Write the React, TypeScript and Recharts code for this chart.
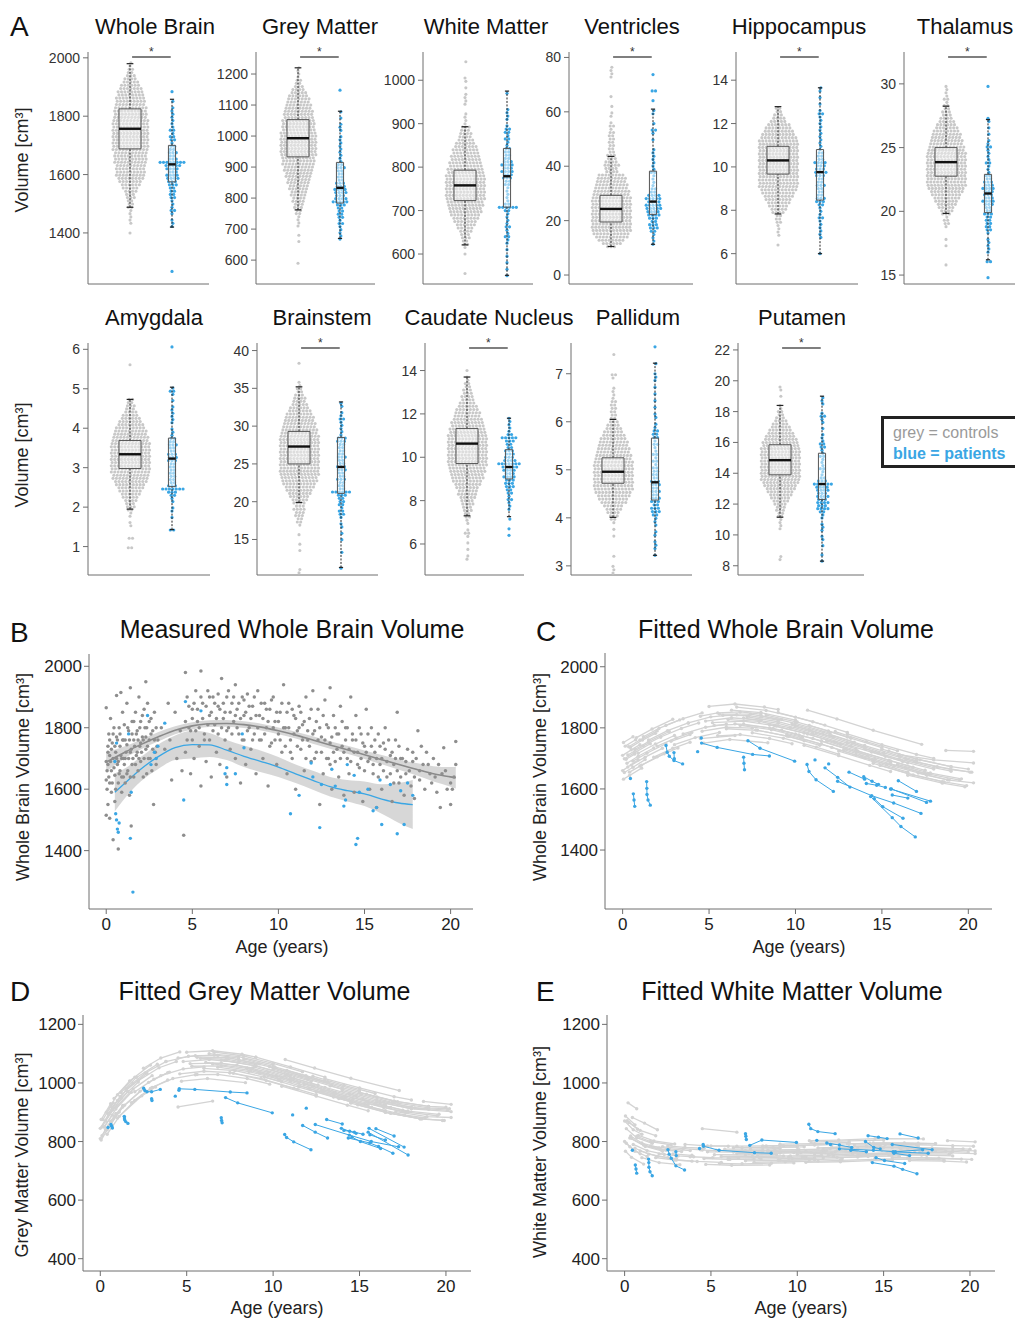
import React from "react";
import {
  Area,
  ComposedChart,
  Line,
  ReferenceArea,
  ReferenceLine,
  Scatter,
  ScatterChart,
  XAxis,
  YAxis,
} from "recharts";

const FONT = '"Liberation Sans", Arial, Helvetica, sans-serif';
const AXIS = "#6e6e6e";
const CTRL_DOT = "#c8c8c8";
const BLUE = "#3aa6e4";
const B_GREY = "#8e8e8e";
const TRAJ_GREY = "#d3d3d3";
const PX_PER_GROUP = 42;

// ---- panel A: dots per swarm row (bottom row first), [ctrl start, patient start, row step]
const WB_BINS = [1400, 1268, 11];
const WB_CTRL = [1,0,0,1,1,1,1,1,2,2,2,3,3,4,5,6,7,8,9,9,9,9,10,10,10,10,11,11,11,11,11,11,11,11,11,11,10,10,10,10,9,9,9,8,8,7,6,5,4,3,2,2,1,1];
const WB_PAT = [1,0,0,0,0,0,0,0,0,0,0,0,0,0,1,1,1,0,1,2,1,1,1,2,2,2,2,3,3,4,4,3,4,5,8,3,2,3,2,2,1,2,2,1,2,1,1,1,1,1,1,1,0,1,0,0,1];
const WB_BOX = [[1488, 1688, 1757, 1825, 1980], [1420, 1575, 1635, 1700, 1858]];

const GM_BINS = [590, 668, 10];
const GM_CTRL = [1,0,0,0,0,0,0,1,0,1,0,0,1,1,1,1,2,2,3,3,4,4,5,5,6,6,7,7,8,8,9,9,10,10,10,11,11,11,11,11,11,11,11,10,10,10,10,9,9,9,8,8,7,7,6,5,4,3,2,2,1,1,1,1];
const GM_PAT = [1,1,1,1,1,2,1,2,2,2,2,3,5,4,3,4,4,3,3,2,2,2,2,3,2,1,1,1,1,1,1,1,1,1,0,1,1,1,0,1,0,1,0,0,0,0,0,0,1];
const GM_BOX = [[762, 933, 993, 1053, 1220], [670, 784, 833, 915, 1080]];

const WM_BINS = [555, 550, 7.5];
const WM_CTRL = [1,0,0,0,0,0,1,0,1,2,2,3,3,4,5,6,7,8,9,10,10,11,11,12,12,12,12,12,12,12,12,11,11,10,10,9,9,8,8,7,6,5,4,4,3,3,1,1,1,1,0,0,1,1,1,1,0,1,0,1,1,0,0,0,0,1];
const WM_PAT = [1,0,1,0,1,0,1,0,1,0,1,1,2,1,1,2,1,1,1,1,2,6,2,1,1,1,1,1,2,2,3,3,4,3,4,3,2,2,2,2,1,1,2,1,2,2,1,0,1,1,1,1,0,0,0,0,1];
const WM_BOX = [[621, 723, 758, 793, 893], [551, 708, 779, 843, 975]];

const VEN_BINS = [10.4, 11.3, 1.2];
const VEN_CTRL = [3,6,8,10,11,12,12,12,12,12,12,12,12,12,12,12,11,11,10,10,9,9,8,4,4,5,4,3,3,2,2,2,2,2,2,2,1,2,1,0,1,1,0,1,0,0,1,0,0,0,0,0,1,1,1,1];
const VEN_PAT = [1,1,1,1,2,3,3,2,3,4,4,5,5,4,5,4,2,2,1,1,1,1,2,1,1,1,1,1,1,1,0,0,1,0,1,2,0,1,0,0,1,1,0,0,1,0,0,2,0,0,0,0,1];
const VEN_BOX = [[10.5, 19.5, 24.3, 29.3, 43.6], [11.3, 22.3, 27, 38.2, 61]];

const HIP_BINS = [6.4, 6.0, 0.15];
const HIP_CTRL = [1,0,0,1,1,1,1,2,2,2,4,5,6,7,8,9,10,11,12,12,12,12,12,12,12,12,12,12,12,12,12,12,12,11,10,9,8,7,5,4,3,2,2];
const HIP_PAT = [1,0,0,0,0,1,1,1,1,1,1,2,1,1,1,2,3,3,2,2,2,3,2,2,3,4,3,3,4,2,2,2,1,1,1,1,1,1,1,1,1,1,1,2,1,0,1,0,1,0,1,1];
const HIP_BOX = [[7.83, 9.67, 10.3, 10.95, 12.78], [6.0, 8.47, 9.76, 10.8, 13.65]];

const THA_BINS = [15.8, 14.8, 0.25];
const THA_CTRL = [1,0,0,0,0,0,1,0,1,0,0,0,1,2,2,1,3,4,5,6,7,8,9,10,11,12,12,12,12,12,12,12,12,12,12,12,11,11,10,10,9,9,8,7,6,5,4,3,3,2,2,1,2,1,1,1,1];
const THA_PAT = [1,0,0,0,0,2,0,0,1,1,1,1,1,0,1,2,2,2,2,2,3,2,2,3,4,3,3,3,4,3,3,2,2,1,1,1,2,1,1,1,1,2,1,1,0,1,0,1,0,1,1,0,0,0,0,0,0,0,0,0,1];
const THA_BOX = [[19.84, 22.76, 23.86, 25.0, 28.25], [16.2, 19.9, 21.4, 22.9, 27.2]];

const AMY_BINS = [0.97, 1.42, 0.08];
const AMY_CTRL = [2,0,0,2,0,0,0,1,1,0,1,1,2,3,3,4,5,6,7,8,9,10,11,11,12,12,12,12,12,12,12,12,12,12,11,11,10,10,9,8,7,6,5,4,3,3,2,2,0,0,0,0,0,0,0,0,0,0,1];
const AMY_PAT = [2,0,0,0,1,0,1,1,0,1,1,2,3,7,3,2,2,2,2,2,2,2,3,3,3,2,2,3,2,2,1,1,1,0,1,1,1,1,1,1,0,1,0,1,2,1,0,0,0,0,0,0,0,0,0,0,0,0,1];
const AMY_BOX = [[1.95, 2.98, 3.34, 3.69, 4.73], [1.43, 2.52, 3.23, 3.75, 5.04]];

const BST_BINS = [10.6, 11.2, 0.42];
const BST_CTRL = [1,1,0,0,0,0,0,1,0,1,0,0,1,0,0,1,2,2,3,3,4,3,4,5,6,7,8,9,10,11,11,12,12,12,12,12,12,12,12,12,12,12,12,12,11,11,10,10,9,9,8,7,6,5,4,4,3,2,2,1,1,0,0,0,0,0,1];
const BST_PAT = [1,0,0,0,0,1,0,0,0,1,0,1,0,1,1,0,1,2,2,1,2,2,2,3,6,2,2,2,3,2,2,3,3,2,2,3,2,2,2,2,3,3,1,1,1,1,1,2,1,1,0,1,1];
const BST_BOX = [[19.9, 25.0, 27.3, 29.3, 35.2], [11.3, 21.1, 24.6, 28.5, 33.2]];

const CAU_BINS = [5.3, 6.4, 0.15];
const CAU_CTRL = [1,1,0,1,0,1,0,1,2,1,0,1,1,2,2,3,3,4,4,5,6,6,7,8,9,10,10,11,11,12,12,12,12,12,12,12,12,12,12,11,11,10,10,9,8,8,7,6,5,4,4,3,3,2,2,1,1,0,1];
const CAU_PAT = [1,0,1,0,0,1,0,0,1,1,1,2,1,2,2,3,3,3,4,3,4,5,7,4,3,3,3,2,2,3,5,2,1,1,1,1,1];
const CAU_BOX = [[7.3, 9.71, 10.63, 11.33, 13.7], [7.26, 9.0, 9.55, 10.35, 11.8]];

const PAL_BINS = [2.85, 3.22, 0.07];
const PAL_CTRL = [1,1,1,0,0,1,0,0,0,0,0,1,0,1,0,1,2,3,4,5,6,8,9,10,11,12,12,12,12,12,12,12,12,12,11,11,10,10,9,9,8,7,6,5,4,3,2,2,2,2,2,2,1,1,1,1,0,0,1,2,0,0,0,0,0,1];
const PAL_PAT = [1,0,1,1,1,0,1,1,0,1,1,1,2,3,3,2,3,3,2,3,2,3,3,2,2,2,2,1,2,1,2,1,1,2,1,2,2,2,1,1,0,1,1,0,1,0,1,0,1,0,1,0,1,1,1,0,0,1,0,0,0,0,1];
const PAL_BOX = [[4.01, 4.72, 4.96, 5.25, 6.05], [3.22, 4.37, 4.74, 5.66, 7.22]];

const PUT_BINS = [8.4, 8.3, 0.2];
const PUT_CTRL = [1,1,0,0,0,0,0,0,0,0,1,1,1,1,2,2,3,3,4,5,6,7,8,9,10,11,12,12,12,12,12,12,12,12,12,12,12,11,11,10,9,8,7,6,5,4,3,2,2,1,1,0,0,1,0,1,1];
const PUT_PAT = [1,0,1,0,0,1,0,1,1,0,1,1,1,0,1,1,2,4,3,4,3,4,3,4,4,6,3,2,1,1,2,1,1,1,2,1,1,2,2,1,1,1,0,1,0,1,1,2,1,0,0,1,1,1];
const PUT_BOX = [[11.15, 13.9, 14.85, 15.85, 18.4], [8.3, 12.3, 13.3, 15.3, 19.0]];

const ROW1 = [
  { name: "Whole Brain", ctrl: WB_CTRL, pat: WB_PAT, bins: WB_BINS, box: WB_BOX, domain: [1225, 2020], ticks: [1400, 1600, 1800, 2000], sig: true },
  { name: "Grey Matter", ctrl: GM_CTRL, pat: GM_PAT, bins: GM_BINS, box: GM_BOX, domain: [523, 1271], ticks: [600, 700, 800, 900, 1000, 1100, 1200], sig: true },
  { name: "White Matter", ctrl: WM_CTRL, pat: WM_PAT, bins: WM_BINS, box: WM_BOX, domain: [531, 1065], ticks: [600, 700, 800, 900, 1000], sig: false },
  { name: "Ventricles", ctrl: VEN_CTRL, pat: VEN_PAT, bins: VEN_BINS, box: VEN_BOX, domain: [-3.3, 82], ticks: [0, 20, 40, 60, 80], sig: true },
  { name: "Hippocampus", ctrl: HIP_CTRL, pat: HIP_PAT, bins: HIP_BINS, box: HIP_BOX, domain: [4.6, 15.3], ticks: [6, 8, 10, 12, 14], sig: true },
  { name: "Thalamus", ctrl: THA_CTRL, pat: THA_PAT, bins: THA_BINS, box: THA_BOX, domain: [14.3, 32.5], ticks: [15, 20, 25, 30], sig: true },
];
const ROW2 = [
  { name: "Amygdala", ctrl: AMY_CTRL, pat: AMY_PAT, bins: AMY_BINS, box: AMY_BOX, domain: [0.28, 6.16], ticks: [1, 2, 3, 4, 5, 6], sig: false },
  { name: "Brainstem", ctrl: BST_CTRL, pat: BST_PAT, bins: BST_BINS, box: BST_BOX, domain: [10.3, 41], ticks: [15, 20, 25, 30, 35, 40], sig: true },
  { name: "Caudate Nucleus", ctrl: CAU_CTRL, pat: CAU_PAT, bins: CAU_BINS, box: CAU_BOX, domain: [4.57, 15.27], ticks: [6, 8, 10, 12, 14], sig: true },
  { name: "Pallidum", ctrl: PAL_CTRL, pat: PAL_PAT, bins: PAL_BINS, box: PAL_BOX, domain: [2.81, 7.64], ticks: [3, 4, 5, 6, 7], sig: false },
  { name: "Putamen", ctrl: PUT_CTRL, pat: PUT_PAT, bins: PUT_BINS, box: PUT_BOX, domain: [7.4, 22.45], ticks: [8, 10, 12, 14, 16, 18, 20, 22], sig: true },
];
const ROW1_LAYOUT = [
  { axisX: 88, width: 121, titleX: 155 },
  { axisX: 256, width: 119, titleX: 320 },
  { axisX: 423, width: 110, titleX: 486 },
  { axisX: 569, width: 124, titleX: 632 },
  { axisX: 736, width: 122, titleX: 799 },
  { axisX: 904, width: 112, titleX: 965 },
];
const ROW2_LAYOUT = [
  { axisX: 88, width: 122, titleX: 154 },
  { axisX: 257, width: 121, titleX: 322 },
  { axisX: 425, width: 99, titleX: 489 },
  { axisX: 571, width: 121, titleX: 638 },
  { axisX: 738, width: 126, titleX: 802 },
];

// ---- panel B: measured whole brain volume [age, cm3]
const B_CTRL_POINTS = [
  [0.0,1865],[0.0,1690],[0.0,1630],[0.0,1515],[0.05,1600],[0.1,1740],[0.1,1680],[0.1,1550],[0.15,1780],[0.2,1710],[0.2,1620],[0.2,1505],[0.25,1830],[0.3,1660],[0.3,1590],[0.35,1750],[0.4,1700],[0.4,1435],[0.45,1800],[0.5,1645],[0.5,1560],[0.55,1720],[0.6,1905],[0.6,1770],[0.65,1680],[0.7,1620],[0.7,1405],[0.75,1800],[0.8,1740],[0.8,1660],[0.85,1915],[0.9,1590],[0.9,1700],[0.95,1850],[1.0,1640],[1.0,1760],
  [1.05,1810],[1.1,1700],[1.1,1620],[1.2,1880],[1.2,1745],[1.25,1660],[1.3,1790],[1.35,1580],[1.4,1930],[1.4,1720],[1.45,1480],[1.5,1820],[1.5,1680],[1.6,1760],[1.6,1640],[1.7,1850],[1.75,1710],[1.8,1790],[1.85,1660],[1.9,1900],[1.95,1740],[2.0,1820],[2.0,1690],[2.1,1770],[2.15,1640],[2.2,1860],[2.3,1950],[2.3,1730],[2.35,1800],[2.4,1880],[2.45,1700],[2.5,1760],[2.6,1830],[2.65,1660],[2.7,1790],[2.75,1550],[2.8,1850],[2.85,1720],[2.9,1680],[3.0,1760],
  [3.2,1800],[3.4,1730],[3.6,1880],[3.7,1760],[3.8,1630],[4.0,1850],[4.1,1700],[4.3,1790],[4.4,1660],[4.5,1450],[4.6,1980],[4.6,1720],
  [4.7,1900],[4.8,1800],[4.9,1650],[5.0,1860],[5.0,1760],[5.1,1700],[5.2,1920],[5.3,1820],[5.4,1740],[5.5,1985],[5.5,1610],[5.6,1880],[5.7,1780],[5.8,1690],[5.9,1920],[6.0,1840],[6.0,1760],[6.1,1640],[6.2,1900],[6.3,1810],[6.4,1720],[6.5,1870],[6.5,1780],[6.6,1680],[6.7,1960],[6.8,1830],[6.9,1760],[7.0,1900],[7.0,1640],[7.1,1800],[7.2,1730],[7.3,1880],[7.4,1820],[7.5,1940],[7.5,1700],[7.6,1860],[7.7,1780],[7.8,1620],[7.9,1900],[8.0,1840],[8.0,1760],
  [8.1,1680],[8.2,1910],[8.3,1800],[8.4,1730],[8.5,1870],[8.6,1780],[8.7,1650],[8.8,1920],[8.9,1840],[9.0,1760],[9.1,1700],[9.2,1880],[9.3,1800],[9.4,1610],[9.5,1860],[9.6,1750],[9.7,1900],[9.8,1820],[9.9,1680],[10.0,1780],[10.1,1850],[10.2,1720],[10.3,1940],[10.4,1800],[10.5,1650],[10.6,1880],[10.7,1760],[10.8,1700],[10.9,1840],[11.0,1600],[11.1,1790],[11.2,1870],[11.3,1730],[11.4,1810],[11.5,1660],[11.6,1900],[11.7,1760],[11.8,1830],[11.9,1690],[12.0,1920],[12.1,1790],[12.2,1720],[12.3,1860],[12.4,1550],[12.5,1770],[12.6,1650],[12.7,1890],[12.8,1810],[12.9,1700],[13.0,1930],[13.0,1750],
  [13.1,1600],[13.2,1840],[13.3,1690],[13.4,1780],[13.5,1640],[13.6,1870],[13.7,1740],[13.8,1580],[13.9,1800],[14.0,1700],[14.1,1650],[14.2,1900],[14.3,1760],[14.4,1590],[14.5,1840],[14.6,1720],[14.7,1670],[14.8,1780],[14.9,1560],[15.0,1740],[15.1,1860],[15.2,1690],[15.3,1600],[15.4,1800],[15.5,1650],[15.6,1720],[15.7,1540],[15.8,1780],[15.9,1680],[16.0,1600],[16.1,1750],[16.2,1800],[16.3,1640],[16.5,1710],[16.6,1560],[16.7,1680],[16.8,1760],[16.9,1850],[17.0,1620],[17.1,1700],[17.3,1580],[17.4,1650],[17.5,1730],[17.7,1610],[17.8,1690],[17.9,1570],
  [18.1,1790],[18.2,1660],[18.3,1740],[18.5,1600],[18.7,1680],[18.9,1620],[19.0,1700],[19.2,1590],[19.4,1540],[19.5,1650],[19.6,1735],[19.8,1600],[20.0,1550],[20.1,1600],[20.3,1755],[20.3,1680],
  [0.05,1660],[0.1,1720],[0.15,1640],[0.2,1760],[0.25,1690],[0.3,1730],[0.35,1620],[0.4,1780],[0.45,1670],[0.5,1740],[0.55,1600],[0.6,1700],[0.65,1760],[0.7,1690],[0.75,1650],[0.8,1780],[0.85,1710],[0.9,1640],[0.95,1760],[1.0,1700],[1.05,1680],[1.1,1760],[1.15,1720],[1.2,1650],[1.25,1800],[1.3,1700],[1.35,1760],[1.4,1640],[1.45,1730],[1.5,1780],[1.55,1700],[1.6,1820],[1.65,1740],[1.7,1680],[1.75,1780],[1.8,1720],[1.85,1760],[1.9,1700],[1.95,1800],[2.0,1750],[2.05,1720],[2.1,1840],[2.15,1760],[2.2,1700],[2.25,1800],[2.3,1770],[2.35,1650],[2.4,1740],[2.5,1820],[2.55,1700],[2.6,1780],[2.7,1730],[2.8,1760],[2.9,1800],[2.95,1740],
  [4.6,1820],[4.7,1760],[4.8,1870],[4.9,1790],[5.0,1830],[5.1,1880],[5.2,1790],[5.3,1860],[5.4,1800],[5.5,1900],[5.6,1830],[5.7,1760],[5.8,1870],[5.9,1810],[6.0,1900],[6.1,1850],[6.2,1790],[6.3,1880],[6.4,1830],[6.5,1910],[6.6,1860],[6.7,1800],[6.8,1880],[6.9,1850],[7.0,1790],[7.1,1920],[7.2,1850],[7.3,1780],[7.4,1900],[7.5,1840],[7.6,1800],[7.7,1880],[7.8,1830],[7.9,1760],[8.0,1890],[8.1,1850],[8.2,1790],[8.3,1870],[8.4,1830],[8.5,1760],[8.6,1900],[8.7,1840],[8.8,1800],[8.9,1760],[9.0,1880],[9.1,1830],[9.2,1780],[9.3,1860],[9.4,1820],[9.5,1740],[9.6,1890],[9.7,1800],[9.8,1760],[9.9,1850],
  [10.0,1820],[10.1,1760],[10.2,1880],[10.3,1800],[10.4,1740],[10.5,1850],[10.6,1800],[10.7,1720],[10.8,1860],[10.9,1780],[11.0,1830],[11.1,1740],[11.2,1800],[11.3,1850],[11.4,1760],[11.5,1820],[11.6,1700],[11.7,1790],[11.8,1740],[11.9,1860],[12.0,1780],[12.1,1700],[12.2,1820],[12.3,1760],[12.4,1800],[12.5,1720],[12.6,1840],[12.7,1760],[12.8,1700],[12.9,1800],[13.0,1680],[13.1,1770],[13.2,1720],[13.3,1800],[13.4,1730],[13.5,1780],[13.6,1700],[13.7,1820],[13.8,1720],[13.9,1760],[14.0,1800],[14.1,1730],
  [14.2,1690],[14.3,1780],[14.4,1720],[14.5,1760],[14.6,1680],[14.7,1800],[14.8,1700],[14.9,1750],[15.0,1660],[15.1,1720],[15.2,1780],[15.3,1700],[15.4,1740],[15.5,1680],[15.6,1760],[15.7,1700],[15.8,1640],[15.9,1740],[16.0,1700],[16.1,1660],[16.2,1730],[16.3,1690],[16.4,1760],[16.5,1650],[16.6,1720],[16.7,1620],[16.8,1700],[16.9,1660],[17.0,1740],[17.1,1640],[17.2,1700],[17.4,1690],[17.6,1660],[17.8,1720],[17.9,1640],
  [18.0,1700],[18.2,1630],[18.4,1680],[18.6,1720],[18.8,1650],[19.1,1640],[19.3,1680],[19.7,1660],[20.0,1620],[20.2,1640],
];
const B_PAT_POINTS = [
  [0.5,1690],[0.55,1520],[0.6,1500],[0.65,1470],[0.7,1460],[0.75,1490],[0.6,1750],[1.3,1780],[1.4,1440],[1.45,1590],[1.55,1265],[2.4,1840],[2.6,1680],[2.8,1720],[2.9,1700],[3.0,1740],[3.4,1815],[4.5,1565],[4.6,1885],[5.5,1855],[6.9,1650],[7.0,1615],[7.0,1670],[7.5,1650],[7.9,1780],[8.0,1735],[10.7,1520],[11.2,1580],[11.9,1685],[12.4,1475],[12.5,1615],[13.1,1665],[13.8,1545],[13.9,1565],[14.0,1680],[14.4,1645],[14.5,1420],[14.6,1440],[14.7,1590],[15.5,1530],[15.7,1540],[15.9,1630],[16.0,1485],[16.5,1615],[16.9,1455],[17.1,1595],[17.3,1485],[17.5,1620],[17.8,1580],[12.0,1640],[13.3,1610],[15.2,1600],
];
const B_CTRL_AGES = [0,1,2,3,4,5,6,7,8,9,10,11,12,13,14,15,16,17,18,19,20,20.3];
const B_CTRL_FIT = [1688,1718,1745,1770,1792,1806,1813,1814,1810,1802,1790,1776,1760,1744,1728,1712,1696,1680,1665,1650,1640,1637];
const B_CTRL_LO = [1656,1698,1729,1755,1779,1794,1802,1803,1799,1791,1779,1765,1748,1732,1715,1698,1681,1663,1645,1625,1608,1602];
const B_CTRL_HI = [1720,1738,1761,1785,1805,1818,1824,1825,1821,1813,1801,1787,1772,1756,1741,1726,1711,1697,1685,1675,1672,1672];
const B_PAT_AGES = [0.5,1,2,3,4,5,6,7,8,9,10,11,12,13,14,15,16,17,17.8];
const B_PAT_FIT = [1590,1615,1665,1705,1735,1745,1744,1727,1707,1690,1672,1650,1629,1608,1595,1585,1568,1555,1550];
const B_PAT_LO = [1528,1565,1625,1665,1695,1700,1705,1695,1672,1655,1640,1620,1598,1576,1560,1545,1520,1490,1470];
const B_PAT_HI = [1652,1665,1705,1745,1775,1790,1783,1760,1742,1725,1705,1680,1660,1640,1630,1625,1616,1620,1630];

// ---- panels C-E: fitted trajectories, one entry per subject (ages shared across measures)
const CTRL_AGES = [
  [0.0,0.5,1.0],[0.1,0.6,1.3],[0.2,0.7],[0.45,1.15,1.9],[0.05,0.4,1.1],[0.3,1.2,2.2],[0.6,1.4,2.5],[0.15,0.75],[0.8,1.7,2.9],[1.0,2.0,3.2],
  [1.5,2.6,3.8],[2.0,3.1,4.0],[3.0,4.2,5.6],[2.5,3.5,4.6],[4.5,6.5],[4.5,5.5,6.8,8.0],[4.6,6.0,7.5],[5.0,6.5,8.2,9.0],[5.2,7.0,8.8],[5.5,6.8,8.5,9.8],
  [5.8,7.3,9.0],[6.0,7.8,9.5,10.5],[6.3,8.0,10.0],[6.5,8.5,10.2,11.5],[7.0,9.0,11.0],[7.5,9.3,11.2,12.5],[8.0,10.0,12.0],[8.5,10.5,12.3,13.5],[9.0,11.0,13.0],[9.5,11.5,13.5,14.5],
  [10.0,12.0,14.0],[10.5,12.5,14.3,15.5],[10.8,13.0,15.0],[11.0,13.2,15.2,16.5],[11.5,13.5,15.5],[12.0,14.0,16.0,17.0],[12.5,14.5,16.5],[13.0,15.0,17.0,18.0],[13.5,15.5,17.5],[14.0,16.0,18.0,19.0],
  [14.5,16.5,18.5],[15.0,17.0,19.0,20.0],[15.5,17.5,19.5],[16.0,18.0,20.3],[16.5,18.5,19.8],[17.0,19.0,20.2],[4.7,6.2,8.4],[10.7,12.4,14.5,17.3],[18.7,20.3],
  [0.0,0.3,0.9],[0.1,0.7,1.6],[0.25,0.9,1.8],[0.35,1.0,2.0],[0.5,1.3,2.3],[0.7,1.5,2.7],[0.9,1.9,3.0],[1.2,2.1,3.3],[0.05,0.6],[1.8,2.9,3.9],
  [0.4,1.1,2.4],[2.2,3.4,4.4],[2.8,3.9],[4.8,6.3,8.0],[5.3,7.0,8.7,10.0],[5.6,7.4,9.2],[6.1,7.9,9.7,11.0],[6.8,8.6,10.4],[7.2,9.0,10.8,12.2],[7.7,9.6,11.4],
  [8.3,10.1,11.9,13.2],[8.9,10.7,12.6],[9.2,11.0,12.9,14.2],[9.8,11.6,13.4],[10.3,12.1,14.0,15.3],[11.2,13.0,14.8],[11.8,13.6,15.4,16.8],[12.3,14.1,15.9],[12.8,14.6,16.4,17.7],[13.3,15.1,16.9],
  [13.8,15.7,17.6,18.8],[14.4,16.2,18.0],[14.9,16.8,18.6,19.9],[15.4,17.2,19.0],[15.9,17.8,19.6],[16.4,18.2,20.1],[17.1,18.9,20.3],[6.6,8.3,10.0,11.7],[3.5,4.8,6.0],[3.8,5.1,6.6],
];
const CTRL_WB = [
  [1710,1728,1745],[1654,1671,1696],[1697,1714],[1736,1760,1782],[1632,1644,1668],[1711,1741,1770],[1691,1717,1748],[1740,1761],[1768,1796,1828],[1675,1705,1734],
  [1760,1791,1816],[1740,1767,1785],[1745,1768,1785],[1808,1830,1849],[1765,1775],[1838,1849,1852,1845],[1789,1802,1799],[1870,1878,1868,1860],[1817,1822,1807],[1774,1778,1765,1748],
  [1841,1840,1825],[1797,1792,1773,1758],[1858,1850,1825],[1813,1800,1777,1757],[1832,1815,1785],[1784,1766,1737,1714],[1840,1815,1783],[1810,1783,1753,1731],[1850,1820,1785],[1778,1747,1711,1694],
  [1805,1773,1737],[1743,1709,1677,1657],[1808,1770,1735],[1780,1741,1707,1685],[1757,1721,1687],[1778,1742,1708,1693],[1724,1689,1655],[1780,1745,1713,1700],[1726,1692,1661],[1732,1698,1670,1658],
  [1684,1650,1624],[1730,1698,1673,1665],[1682,1651,1629],[1712,1695,1685],[1645,1619,1607],[1688,1663,1655],[1750,1762,1751],[1858,1829,1792,1746],[1726,1723],
  [1660,1672,1695],[1699,1719,1748],[1684,1707,1734],[1738,1760,1790],[1678,1704,1733],[1729,1755,1788],[1717,1747,1775],[1771,1798,1826],[1752,1771],[1704,1733,1753],
  [1655,1678,1715],[1770,1798,1816],[1756,1778],[1822,1833,1825],[1808,1812,1798,1780],[1845,1845,1827],[1827,1821,1800,1780],[1808,1794,1769],[1836,1820,1793,1769],[1793,1772,1743],
  [1842,1819,1790,1766],[1806,1780,1747],[1792,1765,1732,1709],[1813,1785,1753],[1766,1736,1702,1680],[1782,1750,1719],[1757,1724,1694,1671],[1788,1755,1725],[1729,1697,1667,1648],[1750,1718,1690],
  [1706,1674,1645,1630],[1721,1690,1665],[1677,1646,1623,1611],[1724,1695,1673],[1680,1652,1633],[1697,1673,1655],[1652,1629,1620],[1868,1857,1835,1809],[1780,1802,1812],[1816,1836,1843],
];
const CTRL_GM = [
  [845,895,940],[820,869,923],[850,890],[895,954,999],[805,840,901],[870,947,1003],[864,924,980],[875,932],[947,1007,1061],[880,940,986],
  [980,1034,1073],[970,1013,1037],[985,1015,1029],[1050,1085,1106],[918,938],[1085,1093,1094,1085],[1031,1040,1035],[1105,1110,1098,1088],[1066,1068,1051],[1028,1029,1015,996],
  [1084,1081,1063],[1050,1042,1020,1004],[1100,1090,1062],[1065,1050,1023,1001],[1078,1058,1025],[1035,1015,982,960],[1080,1052,1018],[1050,1019,989,967],[1088,1055,1020],[1020,986,952,936],
  [1047,1013,979],[989,955,924,905],[1043,1005,973],[1015,977,945,925],[991,957,925],[1018,984,952,938],[970,936,905],[1015,983,953,942],[967,935,907],[974,942,917,910],
  [931,900,878],[968,938,920,917],[930,902,888],[937,912,902],[900,878,872],[933,915,912],[1006,1015,1001],[1080,1051,1016,974],[937,927],
  [810,840,896],[850,908,971],[850,911,968],[900,960,1020],[855,918,972],[918,975,1033],[916,979,1025],[967,1019,1064],[875,929],[933,981,1010],
  [825,886,956],[1008,1052,1073],[1002,1035],[1073,1080,1070],[1057,1058,1042,1022],[1088,1086,1065],[1070,1061,1037,1015],[1054,1039,1011],[1077,1058,1029,1005],[1033,1008,978],
  [1082,1055,1025,1002],[1054,1025,993],[1035,1005,972,951],[1055,1024,994],[1012,981,949,928],[1016,985,956],[996,965,937,916],[1023,992,964],[974,944,916,900],[990,961,934],
  [947,917,891,881],[963,934,912],[925,896,877,872],[962,936,920],[929,904,893],[936,915,907],[902,885,882],[1105,1092,1067,1038],[1025,1048,1055],[1073,1091,1095],
];
const CTRL_WM = [
  [870,840,825],[794,767,749],[932,912],[882,863,840],[767,746,723],[812,783,767],[777,757,745],[871,842],[821,802,792],[745,728,721],
  [785,775,769],[758,751,748],[737,732,729],[785,780,777],[844,832],[771,769,769,770],[742,739,740],[785,784,785,786],[755,754,756],[725,724,726,727],
  [774,774,776],[744,745,747,748],[779,780,782],[759,760,762,764],[734,736,738],[729,731,733,736],[785,787,790],[765,767,769,773],[791,793,797],[742,744,747,749],
  [757,760,764],[729,731,735,735],[798,802,805],[753,758,760,760],[774,778,780],[780,784,785,784],[736,739,740],[792,795,794,793],[753,755,754],[769,770,768,766],
  [740,740,737],[780,779,776,774],[745,744,740],[775,773,768],[735,733,730],[789,786,784],[722,719,720],[803,805,810,809],[803,799],
  [800,782,758],[844,813,794],[865,838,820],[819,795,778],[790,769,756],[818,800,789],[768,749,742],[786,772,766],[887,857],[745,737,733],
  [811,788,770],[782,776,772],[758,753],[765,764,765],[770,769,771,772],[749,749,751],[739,740,742,743],[779,780,782],[759,761,763,765],[750,751,753],
  [770,772,775,777],[736,738,741],[786,788,792,794],[762,764,766],[747,750,754,755],[778,782,785],[753,759,760,759],[746,749,750],[772,775,775,774],[788,790,789],
  [758,760,758,757],[795,795,793],[770,769,767,764],[755,754,751],[780,778,775],[745,743,739],[764,761,759],[764,765,767,769],[790,785,784],[748,745,744],
];
const PAT_AGES = [
  [0.62,0.66,0.70],[1.39,1.40,1.41,1.47,1.60],[2.51,2.58,2.70,2.97,3.47],[2.97,2.99],[4.34],[4.57,5.47,7.52,8.49],[7.25,7.95,9.95],[7.00,7.02,7.05],
  [10.67,10.78,11.19,12.19],[11.13],[11.92],[11.71,12.44,13.15],[12.44,14.41,15.68,17.26],[14.35,15.6,16.1,16.93],[14.56,15.05,16.22],[15.95,17.0],
  [15.5,17.81],[15.55,17.58],[13.95,14.43,14.8],[14.1,14.7,15.2],[13.1,14.0],[15.6,16.5],[4.55],[0.45],
];
const PAT_WB = [
  [1584,1564,1543],[1624,1602,1582,1564,1547],[1742,1720,1707,1693,1682],[1719,1699],[1722],[1750,1736,1713,1708],[1758,1733,1691],[1704,1684,1663],
  [1680,1657,1630,1592],[1695],[1682],[1669,1638,1606],[1625,1578,1554,1520],[1575,1506,1477,1443],[1568,1542,1504],[1627,1592],
  [1600,1560],[1600,1556],[1640,1625,1615],[1618,1612,1605],[1655,1632],[1580,1570],[1767],[1634],
];
const PAT_GM = [
  [858,852,846],[886,880,874,868,862],[982,974,970,970,978],[946,940],[955],[980,978,969,966],[950,932,898],[881,872,864],
  [824,814,799,772],[891],[914],[855,832,812],[858,822,800,782],[812,795,783,760],[815,800,776],[844,819],
  [832,754],[845,781],[845,835,828],[838,832,825],[875,860],[823,805],[975],[848],
];
const PAT_WM = [
  [720,706,692],[740,728,712,697,683],[772,757,743,717,703],[765,752],[776],[784,770,762,760],[787,805,797],[827,818,807],
  [859,844,834,827],[804],[790],[795,788,780],[775,770,765,772],[728,716,705,690],[745,735,725],[826,812],
  [790,772],[765,760],[800,780,775],[820,815,810],[770,765],[760,752],[790],[770],
];

const AGE_TICKS = [0, 5, 10, 15, 20];

function dotShape(r: number, fill: string) {
  return (p: any) => <circle cx={p.cx} cy={p.cy} r={r} fill={fill} />;
}
const noDot = () => <g />;

function swarm(counts: number[], start: number, step: number, cx: number, dx: number) {
  const pts: { x: number; y: number }[] = [];
  counts.forEach((n, i) => {
    const y = start + i * step;
    const shift = i % 2 === 0 ? 0 : dx * 0.25;
    for (let k = 0; k < n; k++) pts.push({ x: cx + shift + (k - (n - 1) / 2) * dx, y });
  });
  return pts;
}

// box drawn with line-only scatter series so it sits above the swarm dots
function boxParts(key: string, s: number[], cx: number, half: number, cap: number, fill: string) {
  const [lo, q1, med, q3, hi] = s;
  const seg = (k: string, pts: { x: number; y: number }[], line: any) => (
    <Scatter key={key + k} data={pts} line={line} shape={noDot} fill="none" isAnimationActive={false} zIndex={900} />
  );
  return [
    <ReferenceArea key={key + "f"} x1={cx - half} x2={cx + half} y1={q1} y2={q3} fill={fill} fillOpacity={0.5} stroke="none" zIndex={850} />,
    seg("w1", [{ x: cx, y: lo }, { x: cx, y: q1 }], { stroke: "#222", strokeDasharray: "2 1.5", strokeWidth: 1 }),
    seg("w2", [{ x: cx, y: q3 }, { x: cx, y: hi }], { stroke: "#222", strokeDasharray: "2 1.5", strokeWidth: 1 }),
    seg("c1", [{ x: cx - cap, y: lo }, { x: cx + cap, y: lo }], { stroke: "#222", strokeWidth: 1.2 }),
    seg("c2", [{ x: cx - cap, y: hi }, { x: cx + cap, y: hi }], { stroke: "#222", strokeWidth: 1.2 }),
    seg(
      "b",
      [
        { x: cx - half, y: q1 },
        { x: cx + half, y: q1 },
        { x: cx + half, y: q3 },
        { x: cx - half, y: q3 },
        { x: cx - half, y: q1 },
      ],
      { stroke: "#555", strokeWidth: 1 }
    ),
    seg("m", [{ x: cx - half, y: med }, { x: cx + half, y: med }], { stroke: "#111", strokeWidth: 2.4 }),
  ];
}

function BoxPanel({ region, axisX, width, plotTop }: any) {
  const plotH = 232;
  const yW = 50;
  const mTop = 14;
  const dx = 3.4 / PX_PER_GROUP;
  const [cStart, pStart, step] = region.bins;
  const ctrlPts = swarm(region.ctrl, cStart, step, 1, dx);
  const patPts = swarm(region.pat, pStart, step, 2, dx);
  const [lo, hi] = region.domain;
  const sigY = hi - (5 / plotH) * (hi - lo);
  return (
    <div style={{ position: "absolute", left: axisX - yW, top: plotTop - mTop }}>
      <ScatterChart width={yW + width + 2} height={mTop + plotH + 6} margin={{ top: mTop, right: 2, bottom: 5, left: 0 }}>
        <XAxis type="number" dataKey="x" domain={[0, width / PX_PER_GROUP]} allowDataOverflow tick={false} tickLine={false} axisLine={{ stroke: AXIS }} height={1} />
        <YAxis
          type="number"
          dataKey="y"
          domain={region.domain}
          ticks={region.ticks}
          allowDataOverflow
          interval={0}
          width={yW}
          tickSize={5}
          tickMargin={3}
          tick={{ fontSize: 14, fill: "#333", fontFamily: FONT }}
          tickLine={{ stroke: AXIS }}
          axisLine={{ stroke: AXIS }}
        />
        <Scatter data={ctrlPts} fill={CTRL_DOT} shape={dotShape(1.55, CTRL_DOT)} isAnimationActive={false} />
        <Scatter data={patPts} fill={BLUE} shape={dotShape(1.6, BLUE)} isAnimationActive={false} />
        {boxParts("c", region.box[0], 1, 0.262, 0.08, "#f2f2f2")}
        {boxParts("p", region.box[1], 2, 0.085, 0.05, "#ffffff")}
        {region.sig && (
          <ReferenceLine
            segment={[{ x: 1.05, y: sigY }, { x: 1.97, y: sigY }]}
            stroke="#555"
            strokeWidth={1.3}
            label={{ value: "*", position: "top", fontSize: 12, fill: "#333", offset: 1 }}
          />
        )}
      </ScatterChart>
    </div>
  );
}

const ageAxis = (domain: number[]) => (
  <XAxis
    type="number"
    dataKey="age"
    domain={domain}
    ticks={AGE_TICKS}
    allowDataOverflow
    interval={0}
    height={40}
    tickSize={5}
    tickMargin={4}
    tick={{ fontSize: 17, fill: "#222", fontFamily: FONT }}
    tickLine={{ stroke: AXIS }}
    axisLine={{ stroke: AXIS }}
  />
);

const volAxis = (domain: number[], ticks: number[], dataKey?: string) => (
  <YAxis
    type="number"
    dataKey={dataKey}
    domain={domain}
    ticks={ticks}
    allowDataOverflow
    interval={0}
    width={60}
    tickSize={5}
    tickMargin={2}
    tick={{ fontSize: 17, fill: "#222", fontFamily: FONT }}
    tickLine={{ stroke: AXIS }}
    axisLine={{ stroke: AXIS }}
  />
);

function MeasuredPanel() {
  const ctrlPts = B_CTRL_POINTS.map(([age, vol]) => ({ age, vol }));
  const patPts = B_PAT_POINTS.map(([age, vol]) => ({ age, vol }));
  const ctrlFit = B_CTRL_AGES.map((age, i) => ({ age, v: B_CTRL_FIT[i], band: [B_CTRL_LO[i], B_CTRL_HI[i]] }));
  const patFit = B_PAT_AGES.map((age, i) => ({ age, v: B_PAT_FIT[i], band: [B_PAT_LO[i], B_PAT_HI[i]] }));
  return (
    <div style={{ position: "absolute", left: 29, top: 644 }}>
      <ComposedChart width={450} height={305} margin={{ top: 10, right: 6, bottom: 0, left: 0 }}>
        {ageAxis([-1, 21.3])}
        {volAxis([1210, 2040], [1400, 1600, 1800, 2000])}
        <Scatter data={ctrlPts} dataKey="vol" fill={B_GREY} shape={dotShape(1.75, B_GREY)} isAnimationActive={false} />
        <Scatter data={patPts} dataKey="vol" fill={BLUE} shape={dotShape(1.7, BLUE)} isAnimationActive={false} />
        <Area data={ctrlFit} dataKey="band" type="monotone" fill="#bdbdbd" fillOpacity={0.6} stroke="none" isAnimationActive={false} />
        <Area data={patFit} dataKey="band" type="monotone" fill="#bdbdbd" fillOpacity={0.6} stroke="none" isAnimationActive={false} />
        <Line data={ctrlFit} dataKey="v" type="monotone" stroke="#8a8a8a" strokeWidth={1.6} dot={false} isAnimationActive={false} />
        <Line data={patFit} dataKey="v" type="monotone" stroke={BLUE} strokeWidth={1.3} dot={false} isAnimationActive={false} />
      </ComposedChart>
    </div>
  );
}

function TrajectoryPanel({ left, top, plotW, xDomain, yDomain, yTicks, ctrl, pat }: any) {
  const ctrlSeries = CTRL_AGES.map((ages, i) => ages.map((age, j) => ({ age, v: ctrl[i][j] })));
  const patSeries = PAT_AGES.map((ages, i) => ages.map((age, j) => ({ age, v: pat[i][j] })));
  return (
    <div style={{ position: "absolute", left: left - 60, top: top - 10 }}>
      <ScatterChart width={60 + plotW + 6} height={306} margin={{ top: 10, right: 6, bottom: 0, left: 0 }}>
        {ageAxis(xDomain)}
        {volAxis(yDomain, yTicks, "v")}
        {ctrlSeries.map((s, i) => (
          <Scatter key={"c" + i} data={s} fill={TRAJ_GREY} line={{ stroke: TRAJ_GREY, strokeWidth: 1.3 }} shape={dotShape(1.7, TRAJ_GREY)} isAnimationActive={false} />
        ))}
        {patSeries.map((s, i) => (
          <Scatter key={"p" + i} data={s} fill={BLUE} line={{ stroke: BLUE, strokeWidth: 1 }} shape={dotShape(1.7, BLUE)} isAnimationActive={false} />
        ))}
      </ScatterChart>
    </div>
  );
}

const txt = (s: string, x: number, y: number, size: number, extra: any = {}) => (
  <div
    style={{
      position: "absolute",
      left: x,
      top: y,
      transform: "translate(-50%, -50%)",
      fontSize: size,
      lineHeight: 1,
      whiteSpace: "nowrap",
      color: "#111",
      ...extra,
    }}
  >
    {s}
  </div>
);

const vtxt = (s: string, x: number, y: number, size: number) =>
  txt(s, x, y, size, { transform: "translate(-50%, -50%) rotate(-90deg)", color: "#222" });

const letter = (s: string, x: number, y: number) => (
  <div style={{ position: "absolute", left: x, top: y, fontSize: 28, lineHeight: 1, color: "#111" }}>{s}</div>
);

export default function App() {
  return (
    <div
      style={{
        position: "absolute",
        left: 0,
        top: 0,
        width: 1015,
        height: 1318,
        overflow: "hidden",
        background: "#fff",
        fontFamily: FONT,
      }}
    >
      {letter("A", 10, 13)}
      {ROW1.map((r, i) => (
        <React.Fragment key={r.name}>
          {txt(r.name, ROW1_LAYOUT[i].titleX, 26.5, 22)}
          <BoxPanel region={r} axisX={ROW1_LAYOUT[i].axisX} width={ROW1_LAYOUT[i].width} plotTop={52} />
        </React.Fragment>
      ))}
      {ROW2.map((r, i) => (
        <React.Fragment key={r.name}>
          {txt(r.name, ROW2_LAYOUT[i].titleX, 317.5, 22)}
          <BoxPanel region={r} axisX={ROW2_LAYOUT[i].axisX} width={ROW2_LAYOUT[i].width} plotTop={343} />
        </React.Fragment>
      ))}
      {vtxt("Volume [cm³]", 22, 160, 18)}
      {vtxt("Volume [cm³]", 22, 455, 18)}

      <div
        style={{
          position: "absolute",
          left: 881,
          top: 416,
          width: 160,
          height: 46,
          border: "3px solid #222",
          padding: "0 0 0 9px",
          fontSize: 16,
          lineHeight: "21px",
          boxSizing: "content-box",
        }}
      >
        <div style={{ color: "#9a9a9a", marginTop: 3 }}>grey = controls</div>
        <div style={{ color: BLUE, fontWeight: "bold" }}>blue = patients</div>
      </div>

      {letter("B", 10, 619)}
      {txt("Measured Whole Brain Volume", 292, 628.5, 25)}
      <MeasuredPanel />
      {vtxt("Whole Brain Volume [cm³]", 23, 777, 18)}
      {txt("Age (years)", 282, 947, 18, { color: "#222" })}

      {letter("C", 536, 618)}
      {txt("Fitted Whole Brain Volume", 786, 628.5, 25)}
      <TrajectoryPanel left={605} top={653} plotW={387} xDomain={[-1.02, 21.37]} yDomain={[1207, 2045]} yTicks={[1400, 1600, 1800, 2000]} ctrl={CTRL_WB} pat={PAT_WB} />
      {vtxt("Whole Brain Volume [cm³]", 540, 777, 18)}
      {txt("Age (years)", 799, 947, 18, { color: "#222" })}

      {letter("D", 10, 978)}
      {txt("Fitted Grey Matter Volume", 264.5, 991.3, 25)}
      <TrajectoryPanel left={83} top={1015} plotW={388} xDomain={[-1.0, 21.45]} yDomain={[358, 1232]} yTicks={[400, 600, 800, 1000, 1200]} ctrl={CTRL_GM} pat={PAT_GM} />
      {vtxt("Grey Matter Volume [cm³]", 22, 1155, 18)}
      {txt("Age (years)", 277, 1308, 18, { color: "#222" })}

      {letter("E", 536, 978)}
      {txt("Fitted White Matter Volume", 792, 991, 25)}
      <TrajectoryPanel left={607} top={1015} plotW={388} xDomain={[-1.02, 21.45]} yDomain={[358, 1232]} yTicks={[400, 600, 800, 1000, 1200]} ctrl={CTRL_WM} pat={PAT_WM} />
      {vtxt("White Matter Volume [cm³]", 540, 1152, 18)}
      {txt("Age (years)", 801, 1308, 18, { color: "#222" })}
    </div>
  );
}
